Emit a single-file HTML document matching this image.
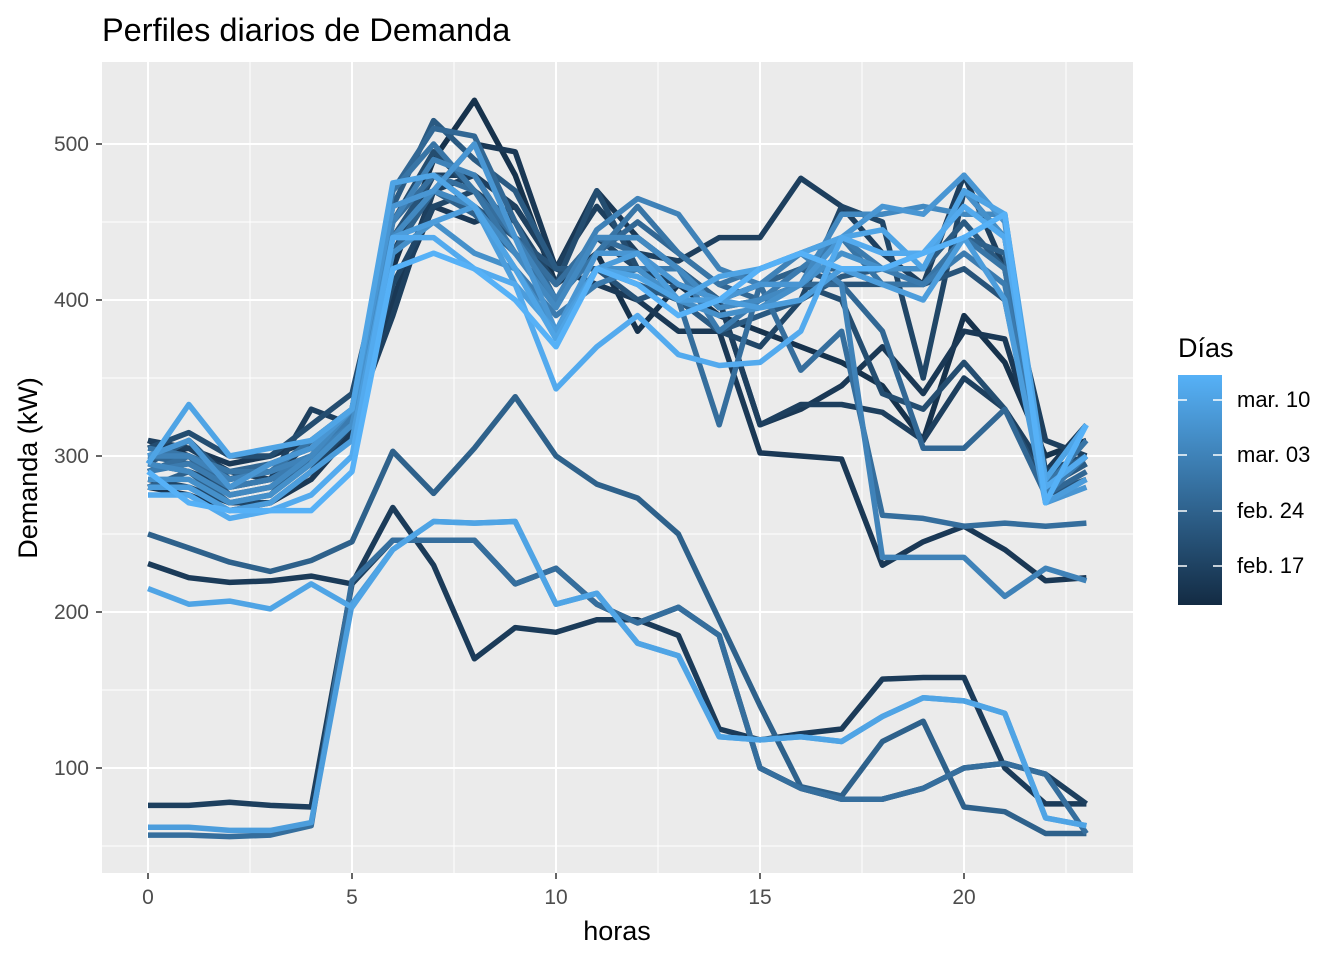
<!DOCTYPE html>
<html><head><meta charset="utf-8"><style>
body{margin:0;background:#fff;}
svg{display:block;font-family:"Liberation Sans",Arial,sans-serif;}
</style></head><body>
<svg id="s" width="1344" height="960" xmlns="http://www.w3.org/2000/svg">
<defs><linearGradient id="g" x1="0" y1="1" x2="0" y2="0"><stop offset="0" stop-color="#132B43"/><stop offset="1" stop-color="#56B1F7"/></linearGradient></defs>
<rect x="102" y="62" width="1031" height="811" fill="#EBEBEB"/>
<g id="grid"></g>
<g id="lines" fill="none" stroke-width="5.5" stroke-linejoin="round" stroke-linecap="butt"></g>
<text x="102" y="41" font-size="32.5" fill="#000">Perfiles diarios de Demanda</text>
<g font-size="21" fill="#4D4D4D" text-anchor="end">
<text x="89" y="151">500</text><text x="89" y="307">400</text><text x="89" y="463">300</text><text x="89" y="619">200</text><text x="89" y="775">100</text>
</g>
<g font-size="21" fill="#4D4D4D" text-anchor="middle">
<text x="148" y="904">0</text><text x="352" y="904">5</text><text x="556" y="904">10</text><text x="760" y="904">15</text><text x="964" y="904">20</text>
</g>
<g stroke="#333" stroke-width="1.5">
<line x1="96" y1="144" x2="102" y2="144"/><line x1="96" y1="300" x2="102" y2="300"/><line x1="96" y1="456" x2="102" y2="456"/><line x1="96" y1="612" x2="102" y2="612"/><line x1="96" y1="768" x2="102" y2="768"/>
<line x1="148" y1="873" x2="148" y2="879"/><line x1="352" y1="873" x2="352" y2="879"/><line x1="556" y1="873" x2="556" y2="879"/><line x1="760" y1="873" x2="760" y2="879"/><line x1="964" y1="873" x2="964" y2="879"/>
</g>
<text x="617" y="940" font-size="27" text-anchor="middle">horas</text>
<text transform="translate(37,468) rotate(-90)" font-size="27" text-anchor="middle">Demanda (kW)</text>
<text x="1178" y="357" font-size="27">Días</text>
<rect x="1178" y="375" width="44" height="230" fill="url(#g)"/>
<g stroke="#fff" stroke-width="1.5">
<line x1="1178" y1="400" x2="1187" y2="400"/><line x1="1213" y1="400" x2="1222" y2="400"/>
<line x1="1178" y1="455" x2="1187" y2="455"/><line x1="1213" y1="455" x2="1222" y2="455"/>
<line x1="1178" y1="511" x2="1187" y2="511"/><line x1="1213" y1="511" x2="1222" y2="511"/>
<line x1="1178" y1="566" x2="1187" y2="566"/><line x1="1213" y1="566" x2="1222" y2="566"/>
</g>
<g font-size="22" fill="#000">
<text x="1237" y="407">mar. 10</text><text x="1237" y="462">mar. 03</text><text x="1237" y="518">feb. 24</text><text x="1237" y="573">feb. 17</text>
</g>
</svg>
<script>
function X(h){return 148+h*40.8;}function Y(v){return 144+(500-v)*1.56;}
var g=document.getElementById('grid'),s='';
[50,150,250,350,450].forEach(function(v){s+='<line x1="102" x2="1133" y1="'+Y(v)+'" y2="'+Y(v)+'" stroke="#fff" stroke-width="1"/>';});
[2.5,7.5,12.5,17.5,22.5].forEach(function(h){s+='<line y1="62" y2="873" x1="'+X(h)+'" x2="'+X(h)+'" stroke="#fff" stroke-width="1"/>';});
[100,200,300,400,500].forEach(function(v){s+='<line x1="102" x2="1133" y1="'+Y(v)+'" y2="'+Y(v)+'" stroke="#fff" stroke-width="2"/>';});
[0,5,10,15,20].forEach(function(h){s+='<line y1="62" y2="873" x1="'+X(h)+'" x2="'+X(h)+'" stroke="#fff" stroke-width="2"/>';});
g.innerHTML=s;
var D=[
[0.05,[310,300,285,290,300,330,420,490,528,480,410,430,380,410,390,380,370,360,345,310,390,360,300,310]],
[0.1,[300,305,295,300,310,325,400,470,500,495,420,470,440,420,400,320,330,345,370,340,380,375,290,320]],
[0.1,[280,275,265,270,285,315,400,460,450,460,420,410,400,380,380,302,300,298,230,245,255,240,220,222]],
[0.15,[310,305,290,285,330,320,390,470,480,440,410,440,420,410,400,320,333,333,328,310,350,330,290,300]],
[0.12,[231,222,219,220,223,218,267,230,170,190,187,195,195,185,125,118,122,125,157,158,158,100,77,77]],
[0.15,[76,76,78,76,75,218,246,246,246,218,228,205,193,203,185,100,87,80,80,87,100,103,96,77]],
[0.15,[295,290,280,285,310,330,430,480,480,460,420,460,430,425,440,440,478,460,430,410,480,420,310,300]],
[0.2,[285,280,270,270,290,320,410,460,470,450,410,440,420,400,380,370,400,460,450,350,470,440,290,300]],
[0.25,[305,315,300,300,320,340,450,495,470,440,410,470,420,420,395,400,410,400,340,330,360,330,280,295]],
[0.3,[290,300,275,280,300,320,440,480,460,440,420,420,400,410,400,410,420,410,410,410,420,400,275,285]],
[0.35,[295,310,285,295,305,330,460,515,490,470,420,420,410,400,380,390,400,415,420,420,450,420,280,295]],
[0.4,[250,241,232,226,233,245,303,276,305,338,300,282,273,250,195,140,88,82,117,130,75,72,58,58]],
[0.4,[280,290,270,275,300,320,430,470,455,430,400,440,440,420,400,410,420,420,410,410,440,430,285,300]],
[0.45,[300,295,290,295,305,330,470,510,505,450,400,430,450,430,410,400,410,410,380,305,305,330,275,290]],
[0.5,[57,57,56,57,63,220,246,246,246,218,228,205,193,203,185,100,87,80,80,87,100,103,96,58]],
[0.5,[290,300,280,285,295,320,450,480,470,440,410,440,430,400,320,410,355,380,262,260,255,257,255,257]],
[0.55,[305,300,290,290,310,330,470,500,470,430,400,430,460,430,410,420,430,440,410,410,440,420,280,310]],
[0.6,[290,295,280,285,300,325,440,470,460,420,390,410,420,420,380,400,420,440,420,410,430,410,275,300]],
[0.65,[300,300,285,290,300,320,450,490,480,440,400,445,465,455,420,410,430,410,235,235,235,210,228,220]],
[0.7,[295,290,275,280,300,330,440,470,460,430,395,440,440,420,395,400,410,455,455,460,455,455,280,300]],
[0.75,[285,285,270,275,295,320,430,450,430,420,380,420,420,400,390,395,410,430,420,420,470,440,285,320]],
[0.8,[300,310,280,295,305,330,460,470,500,440,380,430,430,410,400,410,410,440,460,455,480,450,270,280]],
[0.85,[62,62,60,60,65,205,240,258,257,258,205,212,180,172,120,118,120,117,133,145,143,135,68,63]],
[0.85,[280,280,265,270,290,310,440,450,460,410,380,420,430,400,400,395,400,420,410,400,440,400,270,285]],
[0.9,[215,205,207,202,218,203,240,258,257,258,205,212,180,172,120,118,120,117,133,145,143,135,68,63]],
[0.9,[295,333,300,305,310,330,475,480,460,420,375,420,415,400,415,420,430,440,445,420,470,455,285,320]],
[0.95,[275,275,260,265,275,300,440,440,420,410,343,370,390,365,358,360,380,440,430,430,460,440,280,300]],
[1.0,[290,270,265,265,265,290,420,430,420,400,370,420,410,390,400,420,430,420,420,430,440,455,270,320]]];
function col(t){var a=[19,43,67],b=[86,177,247];return 'rgb('+a.map(function(c,i){return Math.round(c+(b[i]-c)*t);}).join(',')+')';}
var L=document.getElementById('lines'),h='';
D.forEach(function(d){h+='<polyline stroke="'+col(d[0])+'" points="'+d[1].map(function(v,i){return X(i).toFixed(1)+','+Y(v).toFixed(1);}).join(' ')+'"/>';});
L.innerHTML=h;
</script>
</body></html>
